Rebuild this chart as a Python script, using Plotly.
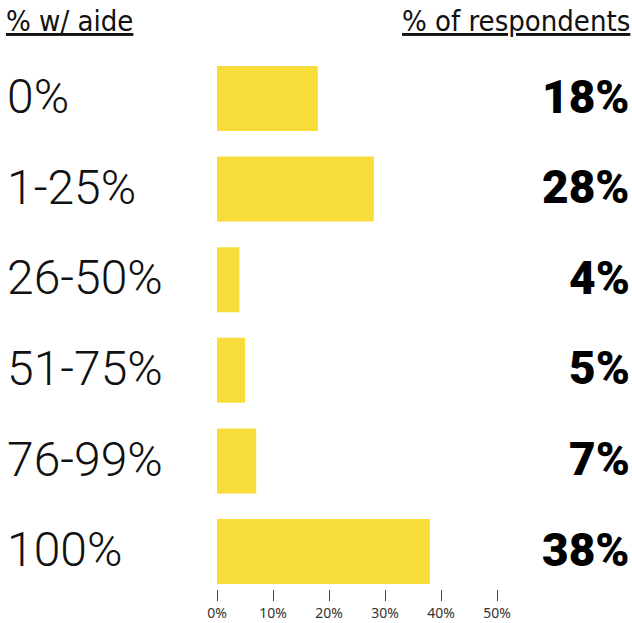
import plotly.graph_objects as go

categories = ["0%", "1-25%", "26-50%", "51-75%", "76-99%", "100%"]
values = [18, 28, 4, 5, 7, 38]
value_labels = ["18%", "28%", "4%", "5%", "7%", "38%"]
tick_vals = [0, 10, 20, 30, 40, 50]
tick_text = ["0%", "10%", "20%", "30%", "40%", "50%"]
header_left = "% w/ aide"
header_right = "% of respondents"

W, H = 632, 623
L, R = 217, 497          # x pixel of 0% and 50%
T, B = 53, 589           # plot top/bottom pixel
pitch = 90.6
c0 = 98.5                # center of first bar (pixel)

y_top = 0 - (c0 - T) / pitch
y_bot = 0 + (B - c0) / pitch

fig = go.Figure()
fig.add_trace(go.Bar(
    x=values, y=list(range(len(categories))), orientation="h",
    marker=dict(color="#F8DC3A", line=dict(width=0)),
    width=65 / pitch, hoverinfo="skip",
))

pw = R - L
ph = B - T
ann = []
for i, (c, v) in enumerate(zip(categories, value_labels)):
    ann.append(dict(x=(5 - L) / pw, y=i - 0.02, xref="paper", yref="y", text=c,
                    showarrow=False, xanchor="left", yanchor="middle",
                    font=dict(family="Roboto", size=48, color="#111", weight=300)))
    ann.append(dict(x=(632 - L) / pw, y=i - 0.02, xref="paper", yref="y", text=v,
                    showarrow=False, xanchor="right", yanchor="middle",
                    font=dict(family="Roboto", size=46, color="#000", weight=900)))
ann.append(dict(x=(4 - L) / pw, y=1 + (T - 21) / ph, xref="paper", yref="paper",
                text="<u>" + header_left + "</u>", showarrow=False,
                xanchor="left", yanchor="middle",
                font=dict(family="DejaVu Sans Condensed", size=29, color="#111")))
ann.append(dict(x=(632 - L) / pw, y=1 + (T - 21) / ph, xref="paper", yref="paper",
                text="<u>" + header_right + "</u>", showarrow=False,
                xanchor="right", yanchor="middle",
                font=dict(family="DejaVu Sans Condensed", size=29, color="#111")))

fig.update_layout(
    width=W, height=H,
    margin=dict(l=L, r=W - R, t=T, b=H - B, pad=0, autoexpand=False),
    paper_bgcolor="white", plot_bgcolor="white",
    showlegend=False,
    xaxis=dict(range=[0, 50], tickvals=tick_vals, ticktext=tick_text,
               ticks="outside", ticklen=11, tickcolor="#444", tickwidth=1,
               ticklabelstandoff=0, automargin=False,
               showgrid=False, zeroline=False, showline=False,
               tickfont=dict(family="Noto Sans", size=14, color="#333")),
    yaxis=dict(range=[y_bot, y_top], showticklabels=False, showgrid=False,
               zeroline=False, showline=False, ticks="", automargin=False),
    annotations=ann,
)
fig.write_html("out.html", config={"displayModeBar": False},
               post_script="document.body.style.margin='0';document.body.style.overflow='hidden';")
